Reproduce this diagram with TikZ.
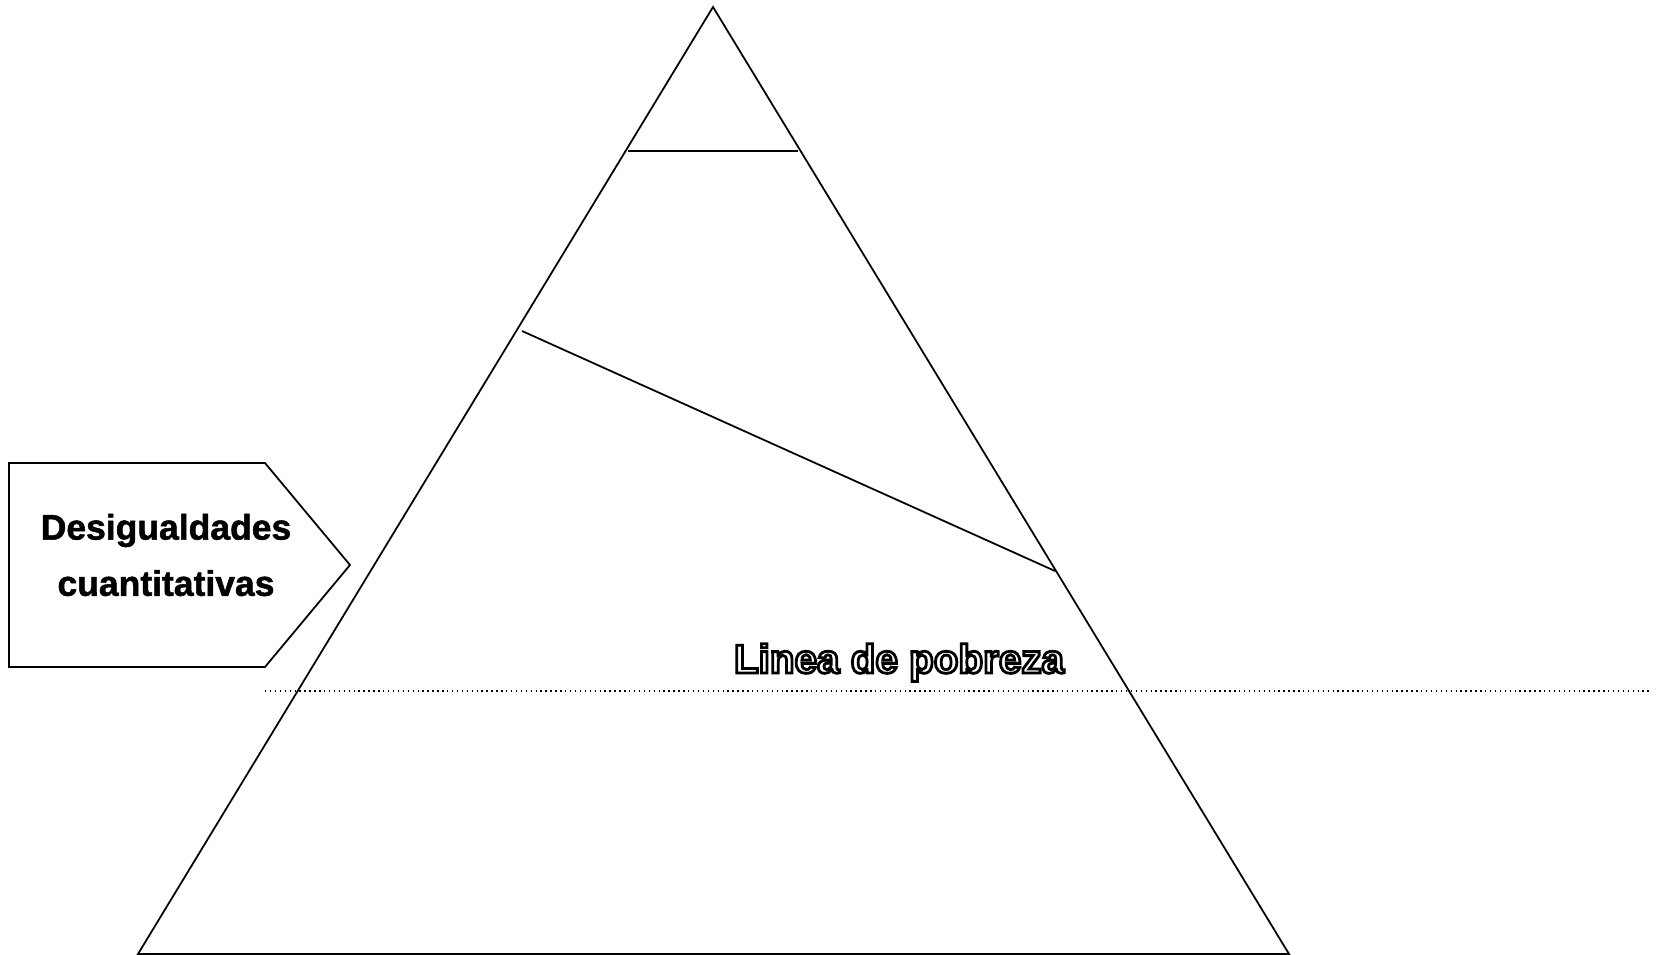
\documentclass[tikz,border=0pt]{standalone}
\usepackage{fontspec}
\setmainfont{Liberation Sans}
\newfontfamily\heavyfont[FakeBold=1.5]{Liberation Sans Bold}
\usepackage{tikz}
\usetikzlibrary{calc}

% hollow (outlined) text
\newcommand{\hollowtext}[1]{{\color{white}\special{pdf:literal direct 0 G 2 Tr 1.6 w}#1\special{pdf:literal direct 0 Tr}}}

\tikzset{
    edge/.style={line width=1pt, black},
    povline/.style={line width=0.8pt, dotted, black},
    boxlabel/.style={font=\heavyfont\fontsize{20.2}{32}\selectfont, align=center},
    povlabel/.style={font=\bfseries\fontsize{23}{26}\selectfont}
}

\begin{document}
\begin{tikzpicture}[x=0.02cm, y=-0.02cm]
    \useasboundingbox (0,0) rectangle (1659,955);

    % Pyramid
    \coordinate (Apex) at (713, 7);
    \coordinate (BaseL) at (138, 954);
    \coordinate (BaseR) at (1289, 954);
    \draw[edge] (BaseL) -- (Apex) -- (BaseR) -- cycle;

    % Top layer
    \coordinate (TopL) at (628, 151);
    \coordinate (TopR) at (798, 151);
    \draw[edge] (TopL) -- (TopR);

    % Slanted layer
    \coordinate (MidL) at (522, 331);
    \coordinate (MidR) at (1055, 571);
    \draw[edge] (MidL) -- (MidR);

    % Poverty line
    \coordinate (PovL) at (265, 691);
    \coordinate (PovR) at (1650, 691);
    \draw[povline] (PovL) -- (PovR);
    \node[povlabel, anchor=base] (Pobreza) at (899, 673) {\hollowtext{Linea de pobreza}};

    % Arrow box
    \coordinate (BoxA) at (9, 463);
    \coordinate (BoxB) at (265, 463);
    \coordinate (BoxTip) at (350, 565);
    \coordinate (BoxC) at (265, 667);
    \coordinate (BoxD) at (9, 667);
    \draw[edge] (BoxA) -- (BoxB) -- (BoxTip) -- (BoxC) -- (BoxD) -- cycle;
    \node[boxlabel] (Desig) at (166, 555) {Desigualdades\\cuantitativas};
\end{tikzpicture}
\end{document}
